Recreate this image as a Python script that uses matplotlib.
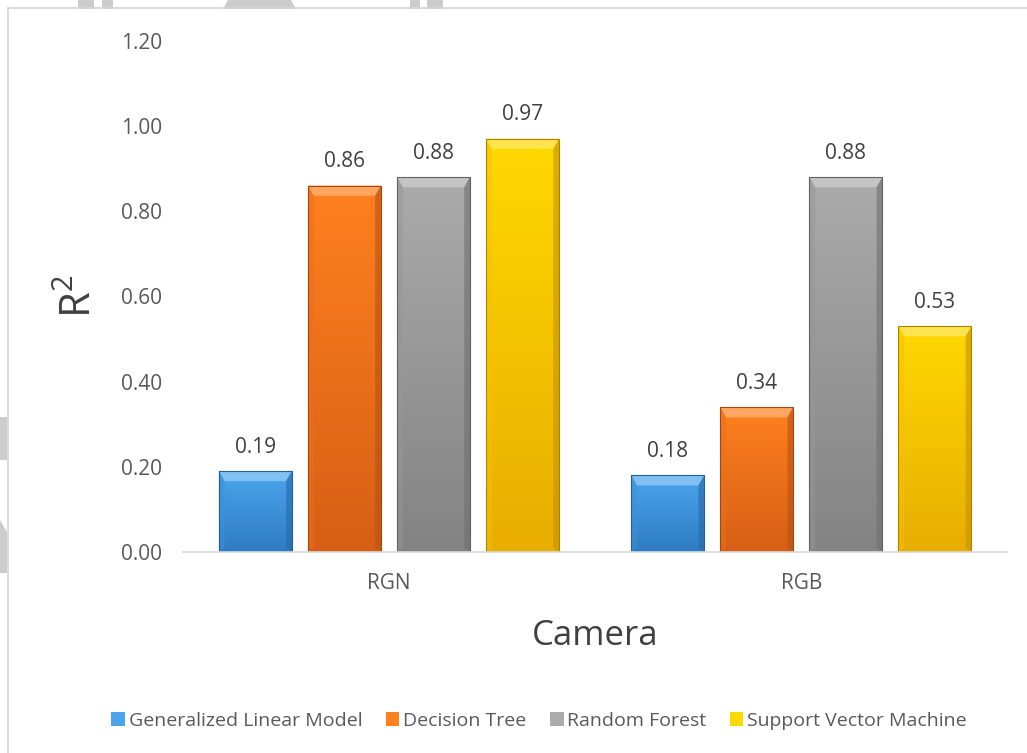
import numpy as np
import matplotlib.pyplot as plt
from matplotlib.patches import Polygon, Rectangle
from matplotlib.colors import to_rgb, LinearSegmentedColormap

plt.rcParams['font.family'] = ['Open Sans', 'DejaVu Sans']
plt.rcParams['mathtext.fontset'] = 'custom'
plt.rcParams['mathtext.rm'] = 'Open Sans'

cameras = ["RGN", "RGB"]
models = ["Generalized Linear Model", "Decision Tree", "Random Forest",
          "Support Vector Machine"]
r2 = {
    "Generalized Linear Model": [0.19, 0.18],
    "Decision Tree": [0.86, 0.34],
    "Random Forest": [0.88, 0.88],
    "Support Vector Machine": [0.97, 0.53],
}
yticks = [0.0, 0.2, 0.4, 0.6, 0.8, 1.0, 1.2]

# top colour, bottom colour for each series
shades = {
    "Generalized Linear Model": ("#4aa5ec", "#2f7cc2"),
    "Decision Tree": ("#ff801f", "#d65f15"),
    "Random Forest": ("#ababab", "#838383"),
    "Support Vector Machine": ("#ffd800", "#e8ad00"),
}
text_col = "#404040"
tick_col = "#595959"


def mix(c, other, t):
    a, b = np.array(to_rgb(c)), np.array(to_rgb(other))
    return tuple(a * (1 - t) + b * t)


fig = plt.figure(figsize=(10.27, 7.53), dpi=100)
ax = fig.add_axes([0.178, 0.267, 0.803, 0.679])

# chart frame and faint shapes behind it
fig.add_artist(plt.Line2D([0.008, 1.0], [0.989, 0.989], color="#d4d4d4", lw=1.2,
                          transform=fig.transFigure))
fig.add_artist(plt.Line2D([0.008, 0.008], [0.0, 0.989], color="#d4d4d4", lw=1.2,
                          transform=fig.transFigure))
for xy in ([(78, 0), (94, 0), (94, 9), (78, 9)],
           [(102, 0), (113, 0), (113, 9), (102, 9)],
           [(223, 9), (228, 0), (291, 0), (296, 9)],
           [(410, 0), (420, 0), (420, 9), (410, 9)],
           [(427, 0), (443, 0), (443, 9), (427, 9)],
           [(0, 417), (7, 417), (7, 460), (0, 460)],
           [(0, 520), (7, 532), (7, 573), (0, 573)]):
    pts = [(px / 1027, 1 - py / 753) for px, py in xy]
    fig.add_artist(Polygon(pts, closed=True, facecolor="#cccccc", edgecolor="none",
                           transform=fig.transFigure))

x = np.arange(len(cameras))
width = 0.177
step = 0.216
dx = 0.014   # bevel size in data units (x)
dy = 0.024   # bevel size in data units (y)

grad = np.linspace(0, 1, 256).reshape(-1, 1)
for i, m in enumerate(models):
    top, bot = shades[m]
    bars = ax.bar(x + (i - 1.5) * step, r2[m], width, color=top, edgecolor="none",
                  label=m, zorder=2)
    cmap = LinearSegmentedColormap.from_list(m, [bot, top])
    for rect, v in zip(bars, r2[m]):
        x0, w, h = rect.get_x(), rect.get_width(), rect.get_height()
        x1 = x0 + w
        im = ax.imshow(grad, cmap=cmap, origin="lower", aspect="auto",
                       extent=[x0, x1, 0, h], zorder=2.1)
        im.set_clip_path(rect)
        # bevel: light top wedge, shaded sides
        ax.add_patch(Polygon([(x0, h), (x1, h), (x1 - dx, h - dy), (x0 + dx, h - dy)],
                             facecolor=mix(top, "white", 0.3), edgecolor="none", zorder=2.2))
        ax.add_patch(Polygon([(x0, 0), (x0, h), (x0 + dx, h - dy), (x0 + dx, dy * 0.4)],
                             facecolor=mix(top, bot, 0.5), edgecolor="none",
                             alpha=0.5, zorder=2.2))
        ax.add_patch(Polygon([(x1, 0), (x1, h), (x1 - dx, h - dy), (x1 - dx, dy * 0.4)],
                             facecolor=mix(bot, "black", 0.15), edgecolor="none",
                             alpha=0.6, zorder=2.2))
        ax.add_patch(Rectangle((x0, 0), w, h, facecolor="none",
                               edgecolor=mix(bot, "black", 0.25), lw=0.8, zorder=2.3))
        ax.text(rect.get_x() + w / 2, h + 0.056, f"{v:.2f}", ha="center", va="center",
                fontsize=15, color=text_col)

ax.set_xlim(-0.5, 1.5)
ax.set_ylim(0, 1.2)
ax.set_yticks(yticks)
ax.set_yticklabels([f"{t:.2f}" for t in yticks])
ax.set_xticks(x)
ax.set_xticklabels(cameras)
ax.tick_params(axis="y", length=0, pad=15, labelsize=15, labelcolor=tick_col)
ax.tick_params(axis="x", length=0, pad=15, labelsize=15, labelcolor=tick_col)
for side in ("top", "right", "left"):
    ax.spines[side].set_visible(False)
ax.spines["bottom"].set_color("#d9d9d9")
ax.spines["bottom"].set_linewidth(1.2)

ax.set_xlabel("Camera", fontsize=25, color=text_col, labelpad=18)
ax.set_ylabel(r"$\mathrm{R}^2$", fontsize=30, color=text_col, labelpad=14)

leg = fig.legend(loc="center", bbox_to_anchor=(0.525, 0.043), ncol=4, frameon=False,
                 handlelength=0.7, handleheight=0.7, handletextpad=0.2,
                 columnspacing=1.2, prop={"size": 14})
for t in leg.get_texts():
    t.set_color(tick_col)

fig.savefig("out.png", dpi=100)
